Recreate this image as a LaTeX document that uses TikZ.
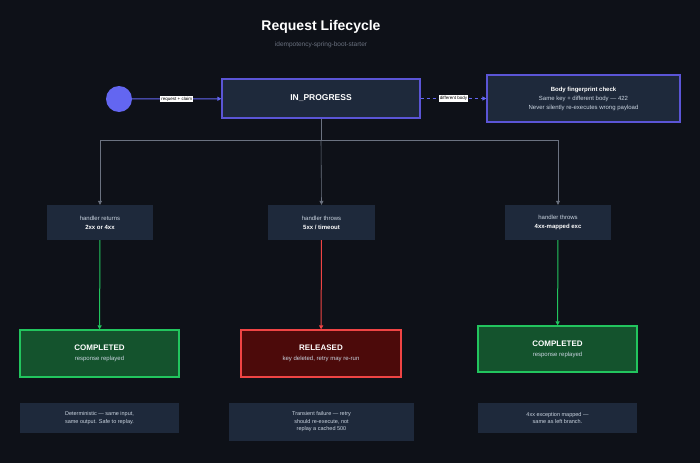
\documentclass[tikz,border=0pt]{standalone}
\usepackage{fontspec}
\setmainfont{Liberation Sans}
\usetikzlibrary{arrows.meta}
\definecolor{bg}{HTML}{0E1118}
\definecolor{boxf}{HTML}{1E293B}
\definecolor{purp}{HTML}{6366F1}
\definecolor{purpb}{HTML}{5B55D6}
\definecolor{grn}{HTML}{22C55E}
\definecolor{grnf}{HTML}{14532D}
\definecolor{redb}{HTML}{EF4444}
\definecolor{redf}{HTML}{4C0A0A}
\definecolor{gline}{HTML}{6B7280}
\definecolor{txt}{HTML}{CBD5E1}
\begin{document}
\begin{tikzpicture}[x=1pt,y=-1pt,
  box/.style={draw=none,fill=boxf,text=white,align=center,font=\fontsize{6}{8}\selectfont,inner sep=0pt},
  state/.style={draw=#1,line width=1.2pt,align=center,text=white,inner sep=0pt},
  lbl/.style={fill=white,text=black,font=\fontsize{4.5}{5}\selectfont,inner sep=1pt},
  gl/.style={draw=gline,line width=0.6pt},
  arr/.style={-{Triangle[length=4pt,width=4pt]}}]
\useasboundingbox[fill=bg] (0,0) rectangle (700,463);
\node[text=white,font=\bfseries\fontsize{14}{16}\selectfont] (title) at (321,27) {Request Lifecycle};
\node[text=gline,font=\fontsize{6.5}{8}\selectfont] (sub) at (321,45) {idempotency-spring-boot-starter};
\node[circle,fill=purp,minimum size=26pt,inner sep=0pt] (start) at (119,99) {};
\node[state=purpb,fill=boxf,minimum width=198pt,minimum height=39pt,font=\bfseries\fontsize{8.5}{10}\selectfont] (ip) at (321,98.5) {IN\_PROGRESS};
\node[state=purpb,fill=boxf,minimum width=193pt,minimum height=47pt,font=\fontsize{6}{8}\selectfont] (fp) at (583.5,98.5) {\textbf{Body fingerprint check}\\[1pt]{\color{txt}Same key + different body — 422}\\[1pt]{\color{txt}Never silently re-executes wrong payload}};
\draw[purp,line width=1pt,arr] (start) -- node[lbl]{request + claim} (ip);
\draw[purp,line width=1pt,dashed,arr] (ip) -- node[lbl]{different body} (fp);
% handler boxes
\node[box,minimum width=106pt,minimum height=35pt] (h1) at (100,222.5) {{\color{txt}handler returns}\\[1pt]\textbf{2xx or 4xx}};
\node[box,minimum width=107pt,minimum height=35pt] (h2) at (321.5,222.5) {{\color{txt}handler throws}\\[1pt]\textbf{5xx / timeout}};
\node[box,minimum width=106pt,minimum height=35pt] (h3) at (558,222.5) {{\color{txt}handler throws}\\[1pt]\textbf{4xx-mapped exc}};
\coordinate (j) at (321,140);
\draw[gl] (ip.south) -- (j);
\draw[gl,arr] (j) -- (h2.north);
\draw[gl,arr] (j) -| (h1.north);
\draw[gl,arr] (j) -| (h3.north);
% result states
\node[state=grn,fill=grnf,minimum width=159pt,minimum height=47pt,font=\fontsize{6}{8}\selectfont] (c1) at (99.5,353.5) {{\bfseries\fontsize{8}{10}\selectfont COMPLETED}\\[2pt]{\color{txt}response replayed}};
\node[state=redb,fill=redf,minimum width=160pt,minimum height=47pt,font=\fontsize{6}{8}\selectfont] (r) at (321,353.5) {{\bfseries\fontsize{8}{10}\selectfont RELEASED}\\[2pt]{\color{txt}key deleted, retry may re-run}};
\node[state=grn,fill=grnf,minimum width=159pt,minimum height=46pt,font=\fontsize{6}{8}\selectfont] (c2) at (557.5,349) {{\bfseries\fontsize{8}{10}\selectfont COMPLETED}\\[2pt]{\color{txt}response replayed}};
\draw[grn,line width=1pt,arr] (h1) -- (c1);
\draw[redb,line width=1pt,arr] (h2) -- (r);
\draw[grn,line width=1pt,arr] (h3) -- (c2);
% notes
\node[box,text=txt,minimum width=159pt,minimum height=30pt,font=\fontsize{5.5}{7.5}\selectfont] (n1) at (99.5,418) {Deterministic — same input,\\same output. Safe to replay.};
\node[box,text=txt,minimum width=185pt,minimum height=38pt,font=\fontsize{5.5}{7.5}\selectfont] (n2) at (321.5,422) {Transient failure — retry\\should re-execute, not\\replay a cached 500};
\node[box,text=txt,minimum width=159pt,minimum height=30pt,font=\fontsize{5.5}{7.5}\selectfont] (n3) at (557.5,418) {4xx exception mapped —\\same as left branch.};
\end{tikzpicture}
\end{document}
